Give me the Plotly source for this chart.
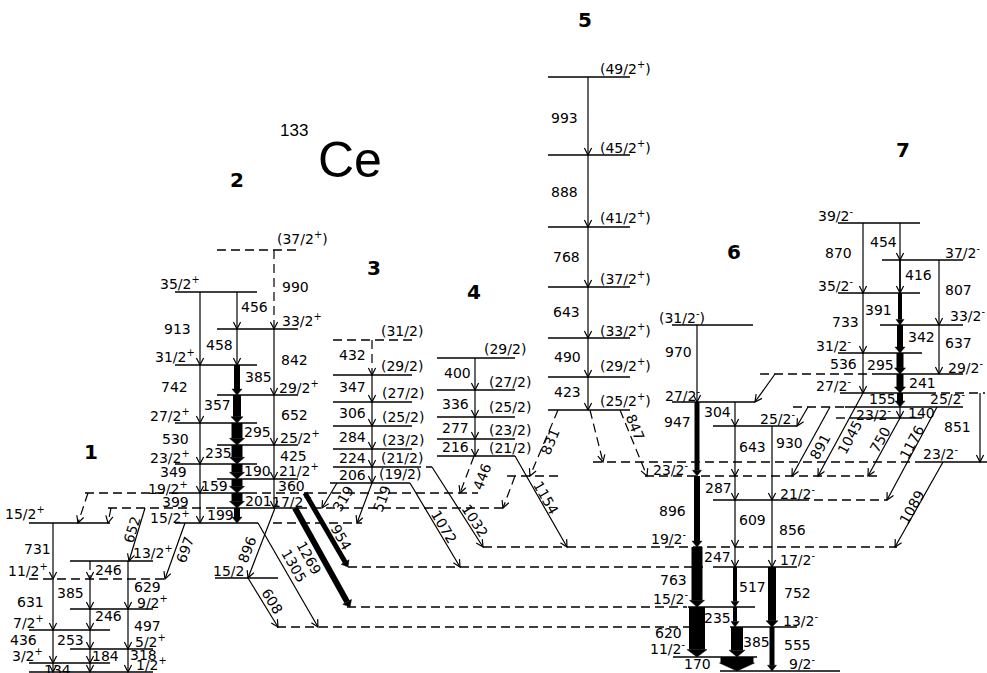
import math
import plotly.graph_objects as go

FONT = "DejaVu Sans"

# ---------------------------------------------------------------- data
# Level heights (drawing units, 0 = top of the figure)
LEVEL_Y = {
    # band 1
    "b1_15": 523, "b1_13": 561, "b1_11": 579, "b1_9": 609, "b1_7": 630,
    "b1_5": 649, "b1_3": 663, "b1_1": 672,
    # band 2
    "b2_37": 250, "b2_35": 292, "b2_33": 329, "b2_31": 365, "b2_29": 395,
    "b2_27": 423, "b2_25": 445, "b2_23": 464, "b2_21": 479, "b2_19": 493,
    "b2_17": 508, "b2_15": 523, "b2_15n": 578,
    # band 3
    "b3_31": 340, "b3_29": 375, "b3_27": 402, "b3_25": 426, "b3_23": 449,
    "b3_21": 467, "b3_19": 483,
    # band 4
    "b4_29": 358, "b4_27": 390, "b4_25": 417, "b4_23": 439, "b4_21": 456,
    "x_476": 476,
    # band 5
    "b5_49": 77, "b5_45": 155, "b5_41": 227, "b5_37": 287, "b5_33": 338,
    "b5_29": 377, "b5_25": 410,
    # band 6
    "b6_31": 325, "b6_27": 402, "b6_25": 426, "b6_23": 476, "b6_21": 500,
    "b6_19": 547, "b6_17": 567, "b6_15": 607, "b6_13": 627, "b6_11": 657,
    "b6_9": 671,
    # band 7
    "b7_39": 223, "b7_37": 260, "b7_35": 293, "b7_33": 325, "b7_31": 353,
    "b7_29": 374, "b7_27": 393, "b7_25": 407, "b7_23": 418, "b7_23b": 462,
}

# level drawing: (level, x start, x end, dashed)
LEVEL_SEGMENTS = [
    ("b1_15", 29, 110, False), ("b1_13", 70, 153, False), ("b1_11", 29, 167, True),
    ("b1_9", 70, 153, False), ("b1_7", 29, 110, False), ("b1_5", 70, 153, False),
    ("b1_3", 29, 110, False), ("b1_1", 29, 153, False),
    ("b2_37", 217, 298, True), ("b2_35", 175, 257, False), ("b2_33", 217, 298, False),
    ("b2_31", 175, 257, False), ("b2_29", 217, 298, False), ("b2_27", 175, 257, False),
    ("b2_25", 217, 298, False), ("b2_23", 175, 257, False), ("b2_21", 217, 298, False),
    ("b2_19", 175, 257, False), ("b2_19", 85, 175, True), ("b2_19", 262, 478, True),
    ("b2_17", 217, 298, False), ("b2_17", 108, 217, True), ("b2_17", 298, 503, True),
    ("b2_15", 175, 258, False), ("b2_15", 273, 362, True), ("b2_15n", 215, 278, False),
    ("b3_31", 333, 412, True), ("b3_29", 333, 412, False), ("b3_27", 333, 412, False),
    ("b3_25", 333, 412, False), ("b3_23", 333, 412, False), ("b3_21", 333, 412, False),
    ("b3_21", 412, 432, True), ("b3_19", 330, 410, False),
    ("b4_29", 437, 515, False), ("b4_27", 437, 515, False), ("b4_25", 437, 515, False),
    ("b4_23", 437, 515, False), ("b4_21", 437, 515, False), ("x_476", 507, 560, True),
    ("b5_49", 548, 630, False), ("b5_45", 548, 630, False), ("b5_41", 548, 630, False),
    ("b5_37", 548, 630, False), ("b5_33", 548, 630, False), ("b5_29", 548, 630, False),
    ("b5_25", 548, 630, False),
    ("b6_31", 672, 753, False), ("b6_27", 672, 755, False), ("b6_25", 713, 797, False),
    ("b6_23", 645, 877, True), ("b6_21", 713, 800, False), ("b6_21", 800, 887, True),
    ("b6_19", 483, 897, True), ("b6_17", 348, 703, True), ("b6_17", 713, 797, False),
    ("b6_15", 347, 687, True), ("b6_15", 688, 755, False), ("b6_13", 277, 690, True),
    ("b6_13", 730, 797, False), ("b6_11", 673, 757, False), ("b6_9", 720, 840, False),
    ("b7_39", 838, 920, False), ("b7_37", 882, 963, False), ("b7_35", 838, 920, False),
    ("b7_33", 880, 963, False), ("b7_31", 838, 922, False), ("b7_29", 880, 963, False),
    ("b7_29", 760, 880, True), ("b7_27", 840, 927, False), ("b7_27", 927, 985, True),
    ("b7_25", 845, 963, False), ("b7_25", 793, 845, True), ("b7_23", 850, 922, False),
    ("b7_23", 836, 850, True), ("b7_23b", 593, 920, True), ("b7_23b", 920, 987, False),
]

# spin labels: (text, x, y)
SPIN_LABELS = [
    ("15/2+", 25, 513), ("13/2+", 153, 552), ("11/2+", 28, 570), ("9/2+", 152, 602),
    ("7/2+", 28, 622), ("5/2+", 150, 641), ("3/2+", 27, 655), ("1/2+", 151, 664),
    ("(37/2+)", 302, 238), ("35/2+", 180, 283), ("33/2+", 302, 320), ("31/2+", 175, 356),
    ("29/2+", 299, 387), ("27/2+", 170, 415), ("25/2+", 300, 437), ("23/2+", 170, 457),
    ("21/2+", 299, 470), ("19/2+", 168, 488), ("17/2+", 292, 501), ("15/2+", 170, 517),
    ("15/2", 228, 571),
    ("(31/2)", 402, 331), ("(29/2)", 402, 366), ("(27/2)", 403, 393), ("(25/2)", 403, 417),
    ("(23/2)", 403, 440), ("(21/2)", 402, 458), ("(19/2)", 400, 474),
    ("(29/2)", 505, 349), ("(27/2)", 510, 382), ("(25/2)", 510, 407), ("(23/2)", 510, 430),
    ("(21/2)", 510, 448),
    ("(49/2+)", 625, 68), ("(45/2+)", 625, 147), ("(41/2+)", 625, 217), ("(37/2+)", 625, 278),
    ("(33/2+)", 625, 330), ("(29/2+)", 625, 365), ("(25/2+)", 625, 400),
    ("(31/2-)", 682, 317), ("27/2-", 682, 395), ("25/2-", 777, 418), ("23/2-", 670, 469),
    ("21/2-", 797, 493), ("19/2-", 668, 538), ("17/2-", 797, 559), ("15/2-", 670, 598),
    ("13/2-", 800, 620), ("11/2-", 667, 648), ("9/2-", 802, 663),
    ("39/2-", 835, 215), ("37/2-", 962, 252), ("35/2-", 835, 285), ("33/2-", 967, 315),
    ("31/2-", 833, 345), ("29/2-", 965, 367), ("27/2-", 833, 385), ("25/2-", 947, 398),
    ("23/2-", 873, 414), ("23/2-", 940, 453),
]

BAND_NAMES = ["1", "2", "3", "4", "5", "6", "7"]
BAND_NAME_POS = [(91, 452), (237, 180), (374, 268), (474, 292), (585, 20), (734, 252), (903, 150)]

# transitions: (energy, from level, to level, x at start, x at end, line width, dashed, label x, label y)
BAND1_TRANS = [
    ("731", "b1_15", "b1_11", 53, 53, 1, False, 37, 549),
    ("631", "b1_11", "b1_7", 53, 53, 1, False, 30, 602),
    ("436", "b1_7", "b1_3", 53, 53, 1, False, 23, 640),
    ("134", "b1_3", "b1_1", 53, 53, 1, False, 57, 670),
    ("246", "b1_13", "b1_11", 90, 90, 1, True, 108, 570),
    ("385", "b1_11", "b1_9", 90, 90, 1, False, 70, 593),
    ("246", "b1_9", "b1_7", 90, 90, 1, False, 108, 616),
    ("253", "b1_7", "b1_5", 90, 90, 1, False, 70, 640),
    ("184", "b1_5", "b1_3", 90, 90, 1, False, 105, 656),
    ("", "b1_3", "b1_1", 90, 90, 1, False, 0, 0),
    ("629", "b1_13", "b1_9", 128, 128, 1, False, 147, 587),
    ("497", "b1_9", "b1_5", 128, 128, 1, False, 147, 626),
    ("318", "b1_5", "b1_1", 128, 128, 1, False, 143, 655),
    ("652", "b2_17", "b1_13", 145, 129, 1, False, 132, 530),
    ("697", "b2_15", "b1_11", 185, 165, 1, False, 185, 550),
    ("", "b2_19", "b1_15", 88, 78, 1, True, 0, 0),
    ("", "b2_17", "b1_15", 111, 108, 1, True, 0, 0),
]
BAND2_TRANS = [
    ("913", "b2_35", "b2_31", 200, 200, 1, False, 177, 329),
    ("742", "b2_31", "b2_27", 200, 200, 1, False, 174, 387),
    ("530", "b2_27", "b2_23", 200, 200, 1, False, 175, 439),
    ("349", "b2_23", "b2_19", 200, 200, 1, False, 173, 472),
    ("399", "b2_19", "b2_15", 200, 200, 1, False, 175, 502),
    ("456", "b2_35", "b2_33", 237, 237, 1, False, 254, 307),
    ("458", "b2_33", "b2_31", 237, 237, 1, False, 219, 345),
    ("385", "b2_31", "b2_29", 237, 237, 6, False, 258, 377),
    ("357", "b2_29", "b2_27", 237, 237, 8, False, 217, 405),
    ("295", "b2_27", "b2_25", 237, 237, 11, False, 257, 432),
    ("235", "b2_25", "b2_23", 237, 237, 11, False, 218, 453),
    ("190", "b2_23", "b2_21", 237, 237, 11, False, 257, 471),
    ("159", "b2_21", "b2_19", 237, 237, 11, False, 214, 486),
    ("201", "b2_19", "b2_17", 237, 237, 11, False, 258, 501),
    ("199", "b2_17", "b2_15", 237, 237, 6, False, 220, 515),
    ("990", "b2_37", "b2_33", 274, 274, 1, True, 295, 287),
    ("842", "b2_33", "b2_29", 274, 274, 1, False, 294, 360),
    ("652", "b2_29", "b2_25", 274, 274, 1, False, 294, 415),
    ("425", "b2_25", "b2_21", 274, 274, 1, False, 293, 456),
    ("360", "b2_21", "b2_17", 274, 274, 1, False, 291, 486),
    ("896", "b2_17", "b2_15n", 275, 248, 1, False, 247, 550),
    ("608", "b2_15n", "b6_13", 248, 278, 1, False, 272, 601),
    ("1305", "b2_15", "b6_13", 258, 318, 1, False, 294, 566),
    ("1269", "b2_17", "b6_15", 295, 350, 6, False, 309, 558),
    ("954", "b2_19", "b6_17", 305, 348, 5, False, 341, 537),
]
BAND3_TRANS = [
    ("432", "b3_31", "b3_29", 372, 372, 1, True, 352, 355),
    ("347", "b3_29", "b3_27", 372, 372, 1, False, 352, 387),
    ("306", "b3_27", "b3_25", 372, 372, 1, False, 352, 413),
    ("284", "b3_25", "b3_23", 372, 372, 1, False, 352, 437),
    ("224", "b3_23", "b3_21", 372, 372, 1, False, 352, 458),
    ("206", "b3_21", "b3_19", 372, 372, 1, False, 352, 475),
    ("319", "b3_19", "b2_17", 337, 322, 1, False, 343, 499),
    ("519", "b3_19", "b2_15", 372, 357, 1, False, 382, 499),
    ("1072", "b3_19", "b6_17", 410, 460, 1, False, 444, 527),
    ("1032", "b3_21", "b6_19", 432, 483, 1, False, 475, 521),
]
BAND4_TRANS = [
    ("400", "b4_29", "b4_27", 475, 475, 1, False, 457, 373),
    ("336", "b4_27", "b4_25", 475, 475, 1, False, 455, 404),
    ("277", "b4_25", "b4_23", 475, 475, 1, False, 455, 428),
    ("216", "b4_23", "b4_21", 475, 475, 1, False, 455, 447),
    ("446", "b4_21", "b2_19", 474, 460, 1, True, 482, 477),
    ("1154", "b4_21", "b6_19", 515, 567, 1, False, 546, 498),
    ("", "x_476", "b2_17", 515, 503, 1, True, 0, 0),
]
BAND5_TRANS = [
    ("993", "b5_49", "b5_45", 588, 588, 1, False, 564, 118),
    ("888", "b5_45", "b5_41", 588, 588, 1, False, 564, 192),
    ("768", "b5_41", "b5_37", 588, 588, 1, False, 566, 257),
    ("643", "b5_37", "b5_33", 588, 588, 1, False, 566, 312),
    ("490", "b5_33", "b5_29", 588, 588, 1, False, 567, 357),
    ("423", "b5_29", "b5_25", 588, 588, 1, False, 567, 392),
    ("831", "b5_25", "x_476", 558, 530, 1, True, 550, 442),
    ("", "b5_25", "b7_23b", 590, 603, 1, True, 0, 0),
    ("847", "b5_25", "b6_23", 620, 647, 1, True, 635, 427),
]
BAND6_TRANS = [
    ("970", "b6_31", "b6_27", 697, 697, 1, False, 678, 352),
    ("947", "b6_27", "b6_23", 697, 697, 5, False, 677, 422),
    ("304", "b6_27", "b6_25", 735, 735, 1, False, 717, 412),
    ("643", "b6_25", "b6_23", 735, 735, 1, False, 752, 447),
    ("930", "b6_25", "b6_21", 772, 772, 1, False, 789, 443),
    ("896", "b6_23", "b6_19", 697, 697, 6, False, 672, 511),
    ("287", "b6_23", "b6_21", 735, 735, 1, False, 718, 488),
    ("609", "b6_21", "b6_19", 735, 735, 1, False, 752, 520),
    ("856", "b6_21", "b6_17", 772, 772, 1, False, 792, 530),
    ("763", "b6_19", "b6_15", 697, 697, 11, False, 673, 580),
    ("247", "b6_19", "b6_17", 735, 735, 1, False, 717, 557),
    ("517", "b6_17", "b6_15", 735, 735, 4, False, 752, 587),
    ("752", "b6_17", "b6_13", 772, 772, 8, False, 797, 593),
    ("620", "b6_15", "b6_11", 697, 697, 16, False, 668, 633),
    ("235", "b6_15", "b6_13", 735, 735, 4, False, 717, 618),
    ("385", "b6_13", "b6_11", 737, 737, 12, False, 756, 642),
    ("555", "b6_13", "b6_9", 772, 772, 5, False, 797, 645),
    ("170", "b6_11", "b6_9", 737, 737, 33, False, 697, 664),
    ("", "b7_29", "b6_27", 775, 755, 1, False, 0, 0),
    ("", "b7_25", "b6_25", 808, 797, 1, False, 0, 0),
]
BAND7_TRANS = [
    ("870", "b7_39", "b7_35", 863, 863, 1, False, 838, 253),
    ("454", "b7_39", "b7_37", 900, 900, 1, False, 883, 242),
    ("416", "b7_37", "b7_35", 900, 900, 1.5, False, 918, 275),
    ("807", "b7_37", "b7_33", 939, 939, 1, False, 958, 290),
    ("733", "b7_35", "b7_31", 863, 863, 1, False, 845, 322),
    ("391", "b7_35", "b7_33", 900, 900, 4, False, 878, 310),
    ("342", "b7_33", "b7_31", 900, 900, 6, False, 921, 337),
    ("637", "b7_33", "b7_29", 939, 939, 1, False, 958, 343),
    ("536", "b7_31", "b7_27", 863, 863, 1, False, 843, 364),
    ("295", "b7_31", "b7_29", 900, 900, 7, False, 880, 365),
    ("241", "b7_29", "b7_27", 900, 900, 7, False, 922, 383),
    ("155", "b7_27", "b7_25", 900, 900, 6, False, 882, 399),
    ("140", "b7_25", "b7_23", 900, 900, 1, False, 921, 413),
    ("1045", "b7_27", "b6_23", 863, 818, 1, False, 850, 437),
    ("891", "b7_25", "b6_23", 830, 792, 1, False, 820, 447),
    ("750", "b7_23", "b6_23", 900, 868, 1, False, 880, 440),
    ("1176", "b7_25", "b6_21", 937, 887, 1, False, 912, 442),
    ("1089", "b7_23b", "b6_19", 943, 895, 1, False, 912, 507),
    ("851", "b7_27", "b7_23b", 980, 980, 1, False, 957, 427),
]

# ---------------------------------------------------------------- drawing
INK = "black"
LEVEL_W = 1.4
THIN_W = 1.2
DASH = "9px,5px"
TXT = 14

shapes = []
annotations = []


def spin_html(s):
    return s.replace("+", "<sup>+</sup>").replace("-", "<sup>-</sup>")


for lev, xa, xb, dashed in LEVEL_SEGMENTS:
    y = LEVEL_Y[lev]
    shapes.append(dict(type="line", xref="x", yref="y", x0=xa, x1=xb, y0=y, y1=y,
                       line=dict(color=INK, width=LEVEL_W, dash=DASH if dashed else "solid")))

all_trans = BAND1_TRANS + BAND2_TRANS + BAND3_TRANS + BAND4_TRANS + BAND5_TRANS + BAND6_TRANS + BAND7_TRANS

for energy, lf, lt, xa, xb, w, dashed, lx, ly in all_trans:
    ya, yb = LEVEL_Y[lf], LEVEL_Y[lt]
    dx, dy = xb - xa, yb - ya
    ln = math.hypot(dx, dy)
    ux, uy = dx / ln, dy / ln
    nx, ny = -uy, ux
    if w <= 1.5:
        L, H = 7.0, 3.6
        shapes.append(dict(type="line", xref="x", yref="y", x0=xa, y0=ya, x1=xb, y1=yb,
                           line=dict(color=INK, width=THIN_W * w, dash=DASH if dashed else "solid")))
        p1 = (xb - L * ux + H * nx, yb - L * uy + H * ny)
        p2 = (xb - L * ux - H * nx, yb - L * uy - H * ny)
        shapes.append(dict(type="path", xref="x", yref="y",
                           path=f"M{p1[0]:.2f},{p1[1]:.2f} L{xb},{yb} L{p2[0]:.2f},{p2[1]:.2f}",
                           line=dict(color=INK, width=1.2)))
    else:
        if w > 20:
            L, H = 8.0, w / 2 + 1
        else:
            L, H = 5 + 0.15 * w, w / 2 + 2
        bx, by = xb - L * ux, yb - L * uy
        shapes.append(dict(type="line", xref="x", yref="y", x0=xa, y0=ya, x1=bx, y1=by,
                           line=dict(color=INK, width=w)))
        p1 = (bx + H * nx, by + H * ny)
        p2 = (bx - H * nx, by - H * ny)
        shapes.append(dict(type="path", xref="x", yref="y",
                           path=f"M{p1[0]:.2f},{p1[1]:.2f} L{xb},{yb} L{p2[0]:.2f},{p2[1]:.2f} Z",
                           fillcolor=INK, line=dict(color=INK, width=0.5)))
    if energy:
        ang = 0
        if xa != xb:
            ang = math.degrees(math.atan2(dy, dx))
            if ang > 90:
                ang -= 180
            elif ang < -90:
                ang += 180
        annotations.append(dict(x=lx, y=ly, xref="x", yref="y", text=energy, showarrow=False,
                                textangle=ang, xanchor="center", yanchor="middle",
                                font=dict(family=FONT, size=TXT, color=INK)))

for txt, x, y in SPIN_LABELS:
    annotations.append(dict(x=x, y=y, xref="x", yref="y", text=spin_html(txt), showarrow=False,
                            xanchor="center", yanchor="middle",
                            font=dict(family=FONT, size=TXT, color=INK)))

for name, (x, y) in zip(BAND_NAMES, BAND_NAME_POS):
    annotations.append(dict(x=x, y=y, xref="x", yref="y", text=f"<b>{name}</b>", showarrow=False,
                            xanchor="center", yanchor="middle",
                            font=dict(family=FONT, size=20, color=INK)))

# nucleus title
annotations.append(dict(x=294, y=130, xref="x", yref="y", text="133", showarrow=False,
                        xanchor="center", yanchor="middle",
                        font=dict(family="Liberation Sans", size=17, color=INK)))
annotations.append(dict(x=350, y=160, xref="x", yref="y", text="Ce", showarrow=False,
                        xanchor="center", yanchor="middle",
                        font=dict(family="Liberation Sans", size=50, color=INK)))

fig = go.Figure()
fig.add_trace(go.Scatter(x=[0, 987], y=[0, 673], mode="markers",
                         marker=dict(size=1, color="rgba(0,0,0,0)"), hoverinfo="skip",
                         showlegend=False))
fig.update_layout(
    width=987, height=673,
    margin=dict(l=0, r=0, t=0, b=0),
    paper_bgcolor="white", plot_bgcolor="white",
    xaxis=dict(range=[0, 987], visible=False, fixedrange=True),
    yaxis=dict(range=[673, 0], visible=False, fixedrange=True),
    shapes=shapes,
    annotations=annotations,
    showlegend=False,
)
fig.write_html("out.html", config={"displayModeBar": False},
               post_script="document.body.style.margin='0px';document.body.style.overflow='hidden';")
